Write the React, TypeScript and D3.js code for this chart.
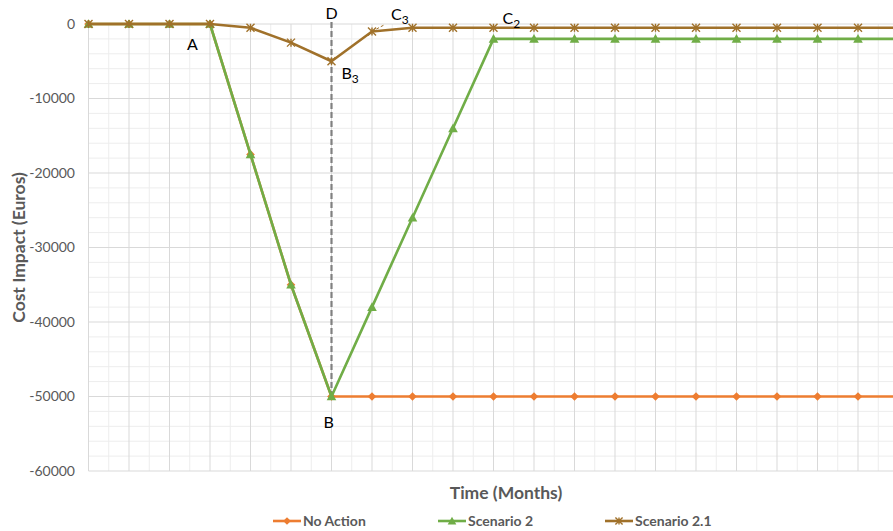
import React from "react";
import * as d3 from "d3";

const months = [1, 2, 3, 4, 5, 6, 7, 8, 9, 10, 11, 12, 13, 14, 15, 16, 17, 18, 19, 20, 21];
const noAction = [0, 0, 0, 0, -17500, -35000, -50000, -50000, -50000, -50000, -50000, -50000, -50000, -50000, -50000, -50000, -50000, -50000, -50000, -50000, -50000];
const scenario2 = [0, 0, 0, 0, -17500, -35000, -50000, -38000, -26000, -14000, -2000, -2000, -2000, -2000, -2000, -2000, -2000, -2000, -2000, -2000, -2000];
const scenario21 = [0, 0, 0, 0, -500, -2500, -5000, -1000, -500, -500, -500, -500, -500, -500, -500, -500, -500, -500, -500, -500, -500];
const yTicks = [0, -10000, -20000, -30000, -40000, -50000, -60000];
const seriesNames = ["No Action", "Scenario 2", "Scenario 2.1"];

// annotation labels anchored to data points (month index, value)
const annotations = [
  { main: "A", sub: "", i: 3, v: 0, dx: -23, dy: 26 },
  { main: "D", sub: "", i: 6, v: 0, dx: -6, dy: -5 },
  { main: "B", sub: "3", i: 6, v: -5000, dx: 10, dy: 18 },
  { main: "C", sub: "3", i: 7, v: -1000, dx: 19, dy: -11 },
  { main: "C", sub: "2", i: 10, v: -2000, dx: 9, dy: -15 },
  { main: "B", sub: "", i: 6, v: -50000, dx: -8, dy: 31 },
];

const W = 893;
const H = 531;
const FONT = "Lato, 'Open Sans', sans-serif";
const colors = ["#ED7D31", "#70AD47", "#A0712A"];

export default function App() {
  const left = 88.5;
  const top = 24;
  const bottom = 471;
  const x = d3.scaleLinear().domain([0, months.length - 1]).range([left, left + 40.5 * (months.length - 1)]);
  const y = d3.scaleLinear().domain([-60000, 0]).range([bottom, top]);
  const right = x(months.length - 1);

  const line = d3
    .line<number>()
    .x((_, i) => x(i))
    .y((d) => y(d));

  const minorY = d3.range(-60000, 1, 2000).filter((v) => v % 10000 !== 0);
  const minorX = d3.range(0, months.length - 1).map((i) => i + 0.5);

  const data = [noAction, scenario2, scenario21];

  const diamond = (cx: number, cy: number, r: number) =>
    `M${cx},${cy - r}L${cx + r},${cy}L${cx},${cy + r}L${cx - r},${cy}Z`;
  const tri = (cx: number, cy: number, r: number) =>
    `M${cx},${cy - r}L${cx + r},${cy + r * 0.8}L${cx - r},${cy + r * 0.8}Z`;
  const star = (cx: number, cy: number, r: number) =>
    `M${cx - r},${cy - r}L${cx + r},${cy + r}M${cx - r},${cy + r}L${cx + r},${cy - r}M${cx},${cy - r}L${cx},${cy + r}`;

  const marker = (s: number, cx: number, cy: number, key: string, scale = 1) => {
    if (s === 0) return <path key={key} d={diamond(cx, cy, 4.3 * scale)} fill={colors[0]} />;
    if (s === 1) return <path key={key} d={tri(cx, cy, 4.8 * scale)} fill={colors[1]} />;
    return <path key={key} d={star(cx, cy, 4 * scale)} stroke={colors[2]} strokeWidth={1.4} fill="none" />;
  };

  const legendX = [273, 438, 605];

  return (
    <svg width={W} height={H} style={{ position: "absolute", left: 0, top: 0, background: "#fff" }} fontFamily={FONT}>
      <defs>
        <clipPath id="plotclip">
          <rect x={0} y={0} width={W} height={bottom + 6} />
        </clipPath>
      </defs>
      {/* minor gridlines */}
      {minorY.map((v) => (
        <line key={"my" + v} x1={left} x2={right} y1={y(v)} y2={y(v)} stroke="#ededed" strokeWidth={1} />
      ))}
      {minorX.map((i) => (
        <line key={"mx" + i} x1={x(i)} x2={x(i)} y1={top} y2={bottom} stroke="#ededed" strokeWidth={1} />
      ))}
      {/* major gridlines */}
      {yTicks.map((v) => (
        <line key={"gy" + v} x1={left} x2={right} y1={y(v)} y2={y(v)} stroke="#d9d9d9" strokeWidth={1} />
      ))}
      {months.map((_, i) => (
        <line key={"gx" + i} x1={x(i)} x2={x(i)} y1={top} y2={bottom} stroke="#d9d9d9" strokeWidth={1} />
      ))}
      {/* y tick labels */}
      {yTicks.map((v) => (
        <text key={"t" + v} x={75} y={y(v)} dy="0.35em" textAnchor="end" fontSize={14} fill="#595959">
          {v}
        </text>
      ))}
      {/* dashed marker line D */}
      <line x1={x(6)} x2={x(6)} y1={y(0) - 2} y2={y(-50000) + 3} stroke="#808080" strokeWidth={2.2} strokeDasharray="6,3" />
      {/* C3 leader */}
      <line x1={x(7)} x2={x(7) + 13} y1={y(-1000)} y2={y(-1000) - 7} stroke="#A0712A" strokeWidth={1} strokeDasharray="3,2" />
      <g clipPath="url(#plotclip)">
        {data.map((d, s) => (
          <g key={"s" + s}>
            <path d={line(d) || ""} fill="none" stroke={colors[s]} strokeWidth={2.6} strokeLinejoin="round" />
            {d.map((v, i) => marker(s, x(i), y(v), `m${s}-${i}`))}
          </g>
        ))}
      </g>
      {/* annotations */}
      {annotations.map((a, k) => (
        <text key={"a" + k} x={x(a.i) + a.dx} y={y(a.v) + a.dy} fontSize={16} fill="#000">
          {a.main}
          {a.sub && (
            <tspan fontSize={12} dy={4}>
              {a.sub}
            </tspan>
          )}
        </text>
      ))}
      {/* axis titles */}
      <text x={506} y={499} textAnchor="middle" fontSize={17.5} fontWeight="bold" fill="#595959">
        Time (Months)
      </text>
      <text
        transform={`translate(25,${(top + bottom) / 2}) rotate(-90)`}
        textAnchor="middle"
        fontSize={17.5}
        fontWeight="bold"
        fill="#595959"
      >
        Cost Impact (Euros)
      </text>
      {/* legend */}
      {seriesNames.map((n, s) => (
        <g key={"l" + s}>
          <line x1={legendX[s]} x2={legendX[s] + 28} y1={521} y2={521} stroke={colors[s]} strokeWidth={2.6} />
          {marker(s, legendX[s] + 14, 521, "lm" + s, 0.9)}
          <text x={legendX[s] + 30} y={521} dy="0.35em" fontSize={14} fontWeight="bold" fill="#595959">
            {n}
          </text>
        </g>
      ))}
    </svg>
  );
}
